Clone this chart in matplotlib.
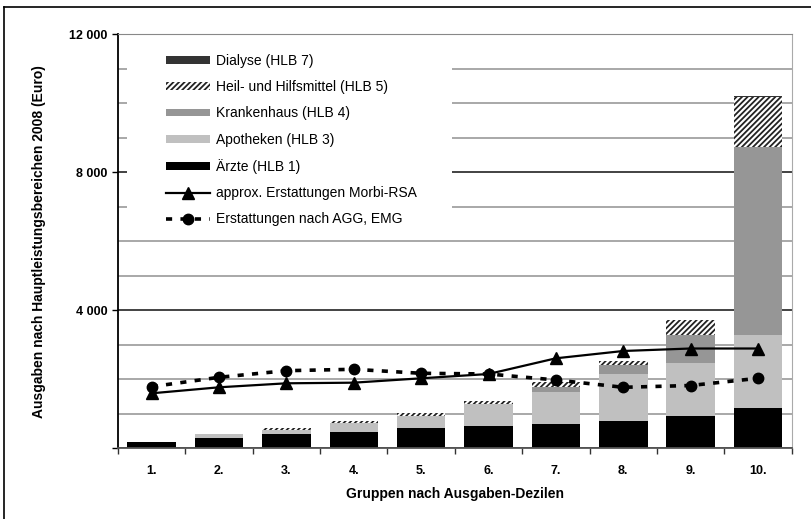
import matplotlib
matplotlib.use("Agg")
import matplotlib.pyplot as plt
import numpy as np
from matplotlib.lines import Line2D
from matplotlib.patches import Patch, Rectangle
from matplotlib.ticker import FixedLocator, MultipleLocator, FuncFormatter

# Ausgaben je Gruppe (Euro), gestapelt nach Hauptleistungsbereich
groups = ["1.", "2.", "3.", "4.", "5.", "6.", "7.", "8.", "9.", "10."]
aerzte = [174, 299, 415, 473, 597, 655, 705, 798, 937, 1177]
apotheken = [15, 116, 116, 252, 348, 630, 928, 1357, 1546, 2109]
krankenhaus = [0, 0, 0, 0, 0, 0, 136, 252, 803, 5461]
hilfsmittel = [0, 0, 49, 58, 70, 95, 154, 139, 435, 1442]
dialyse = [0, 0, 0, 0, 0, 0, 0, 0, 0, 37]

# Erstattungen je Gruppe (Euro)
morbi_rsa = [1595, 1769, 1885, 1903, 2030, 2155, 2610, 2822, 2894, 2894]
agg_emg = [1787, 2059, 2251, 2291, 2175, 2155, 1981, 1769, 1821, 2030]

plt.rcParams["font.family"] = ["Liberation Sans", "DejaVu Sans"]
plt.rcParams["hatch.linewidth"] = 1.3

W, H = 812, 519
fig = plt.figure(figsize=(W / 100, H / 100), dpi=100)
x0, x1, y0, y1 = 118, 791.7, 448.3, 34.5
ax = fig.add_axes([x0 / W, 1 - y0 / H, (x1 - x0) / W, (y0 - y1) / H])

HATCH = "//////"
x = np.arange(len(groups))
bottom = np.zeros(len(groups))
stacks = [
    (aerzte, "#000000", None),
    (apotheken, "#c0c0c0", None),
    (krankenhaus, "#969696", None),
    (hilfsmittel, "#ffffff", HATCH),
    (dialyse, "#333333", None),
]
for vals, color, hatch in stacks:
    vals = np.array(vals, dtype=float)
    ax.bar(x, vals, 0.72, bottom=bottom, color=color, hatch=hatch,
           edgecolor="#222222" if hatch else color, linewidth=0, zorder=2)
    bottom += vals

ax.plot(x, morbi_rsa, color="black", lw=1.6, marker="^", ms=8.5, zorder=4)
ax.plot(x, agg_emg, color="black", lw=2.6, ls=(0, (1.7, 2.3)), marker="o",
        ms=7.5, dash_capstyle="butt", zorder=4)

ax.set_xlim(-0.5, len(groups) - 0.5)
ax.set_ylim(0, 12000)

# x axis: ticks between groups, labels centred under bars
ax.xaxis.set_major_locator(FixedLocator(np.arange(-0.5, len(groups), 1.0)))
ax.xaxis.set_major_formatter(FuncFormatter(lambda v, p: ""))
ax.xaxis.set_minor_locator(FixedLocator(x))
ax.set_xticklabels(groups, minor=True)
ax.tick_params(axis="x", which="major", direction="out", length=4, width=1,
               color="#333333")
ax.tick_params(axis="x", which="minor", length=0, pad=12, labelsize=9)
for lbl in ax.get_xticklabels(minor=True):
    lbl.set_fontweight("bold")

# y axis
ax.yaxis.set_major_locator(FixedLocator([0, 4000, 8000, 12000]))
ax.yaxis.set_minor_locator(MultipleLocator(1000))
ax.yaxis.set_major_formatter(FuncFormatter(
    lambda v, p: "" if v == 0 else f"{int(v):,}".replace(",", " ")))
ax.tick_params(axis="y", which="major", direction="out", length=4, width=1,
               labelsize=9, color="black")
ax.tick_params(axis="y", which="minor", length=0)
for lbl in ax.get_yticklabels():
    lbl.set_fontweight("bold")

ax.grid(axis="y", which="minor", color="#999999", lw=1.2, zorder=0)
ax.grid(axis="y", which="major", color="#222222", lw=1.2, zorder=0)
ax.set_axisbelow(True)

ax.spines["left"].set_color("black")
ax.spines["left"].set_linewidth(1.3)
ax.spines["bottom"].set_color("#555555")
ax.spines["bottom"].set_linewidth(1.3)
ax.spines["top"].set_color("#888888")
ax.spines["right"].set_color("#aaaaaa")

ax.set_xlabel("Gruppen nach Ausgaben-Dezilen", fontsize=10, fontweight="bold",
              labelpad=7)
ax.set_ylabel("Ausgaben nach Hauptleistungsbereichen 2008 (Euro)", fontsize=10,
              fontweight="bold", labelpad=17)

# white background block behind the legend
fig.patches.append(Rectangle((127 / W, 1 - 235 / H), (452 - 127) / W,
                             (235 - 35.5) / H, transform=fig.transFigure,
                             facecolor="white", edgecolor="none", zorder=5))

handles = [
    Patch(facecolor="#333333", edgecolor="none"),
    Patch(facecolor="white", edgecolor="#222222", hatch=HATCH, linewidth=0),
    Patch(facecolor="#969696", edgecolor="none"),
    Patch(facecolor="#c0c0c0", edgecolor="none"),
    Patch(facecolor="#000000", edgecolor="none"),
    Line2D([], [], color="black", lw=1.6, marker="^", ms=8.5),
    Line2D([], [], color="black", lw=2.6, ls=(0, (1.7, 2.3)), marker="o",
           ms=7.5, dash_capstyle="butt"),
]
labels = [
    "Dialyse (HLB 7)",
    "Heil- und Hilfsmittel (HLB 5)",
    "Krankenhaus (HLB 4)",
    "Apotheken (HLB 3)",
    "Ärzte (HLB 1)",
    "approx. Erstattungen Morbi-RSA",
    "Erstattungen nach AGG, EMG",
]
leg = fig.legend(handles, labels, loc="upper left",
                 bbox_to_anchor=(166 / W, 1 - 54 / H), frameon=False,
                 fontsize=10, handlelength=3.17, handleheight=0.5,
                 handletextpad=0.43, labelspacing=0.88, borderpad=0,
                 borderaxespad=0)
leg.set_zorder(6)

# outer frame lines
fig.add_artist(Line2D([4 / W, 4 / W], [0, 1 - 7 / H], transform=fig.transFigure,
                      color="black", lw=1.2))
fig.add_artist(Line2D([4 / W, 1], [1 - 7 / H, 1 - 7 / H],
                      transform=fig.transFigure, color="black", lw=1.2))

fig.savefig("out.png", dpi=100)
